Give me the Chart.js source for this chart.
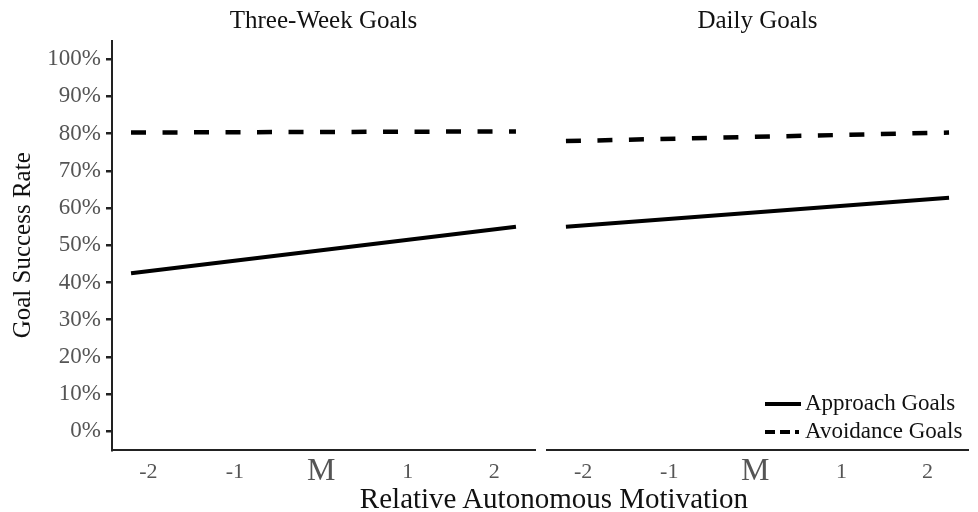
<!DOCTYPE html>
<html>
<head>
<meta charset="utf-8">
<script src="https://cdn.jsdelivr.net/npm/chart.js@4.4.1/dist/chart.umd.min.js"></script>
<style>
  body { margin: 0; background: #fff; }
  .figure { position: relative; width: 978px; height: 512px; }
  .figure canvas { position: absolute; top: 0; }
  #left-panel { left: 0; }
  #right-panel { left: 542px; }
  .x-title {
    position: absolute;
    left: 254px;
    width: 600px;
    top: 481px;
    text-align: center;
    font: 29px/34px 'Liberation Serif', 'Times New Roman', serif;
    color: #111;
  }
</style>
</head>
<body>
<div class="figure">
  <canvas id="left-panel" width="542" height="512"></canvas>
  <canvas id="right-panel" width="436" height="512"></canvas>
  <div class="x-title">Relative Autonomous Motivation</div>
</div>
<script>
const panelTitles = ['Three-Week Goals', 'Daily Goals'];
const seriesLabels = ['Approach Goals', 'Avoidance Goals'];

// where the fitted lines start and end on the motivation axis (SD units)
const motivationRange = [-2.2, 2.25];

// goal success rate (%) at the two ends of each line
const threeWeekApproach = [42.5, 55.0];
const threeWeekAvoidance = [80.3, 80.6];
const dailyApproach = [55.0, 62.8];
const dailyAvoidance = [78.0, 80.3];

const xTickValues = [-2, -1, 0, 1, 2];
const xTickLabels = ['-2', '-1', 'M', '1', '2'];
const yTickValues = [0, 10, 20, 30, 40, 50, 60, 70, 80, 90, 100];

const serif = "'Liberation Serif', 'Times New Roman', serif";
Chart.defaults.font.family = serif;

const toPoints = (values) => values.map((y, i) => ({ x: motivationRange[i], y }));

// legend sits inside the bottom right corner of the daily panel
const goalLegend = {
  id: 'goalLegend',
  afterDraw(chart) {
    const { ctx, chartArea } = chart;
    const left = chartArea.right - 203;
    const rows = [chartArea.bottom - 46, chartArea.bottom - 18];
    ctx.save();
    seriesLabels.forEach((label, i) => {
      ctx.beginPath();
      ctx.setLineDash(i === 0 ? [] : [10, 5]);
      ctx.lineWidth = 4;
      ctx.strokeStyle = '#000';
      ctx.moveTo(left, rows[i]);
      ctx.lineTo(left + (i === 0 ? 36 : 34), rows[i]);
      ctx.stroke();
      ctx.setLineDash([]);
      ctx.fillStyle = '#111';
      ctx.font = `23px ${serif}`;
      ctx.textBaseline = 'middle';
      ctx.fillText(label, left + 40, rows[i]);
    });
    ctx.restore();
  },
};

const renderPanel = (canvasId, title, approach, avoidance, isLeft) => {
  const canvas = document.getElementById(canvasId);

  new Chart(canvas, {
    type: 'line',
    data: {
      datasets: [
        {
          label: seriesLabels[0],
          data: toPoints(approach),
          borderColor: '#000',
          borderWidth: 4,
          pointRadius: 0,
        },
        {
          label: seriesLabels[1],
          data: toPoints(avoidance),
          borderColor: '#000',
          borderWidth: 4.5,
          borderDash: [15, 16.5],
          pointRadius: 0,
        },
      ],
    },
    options: {
      responsive: false,
      animation: false,
      events: [],
      layout: {
        padding: isLeft ? { left: 0, right: 7 } : { left: 5, right: 10 },
      },
      plugins: {
        legend: { display: false },
        tooltip: { enabled: false },
      },
      scales: {
        // empty top axis that only carries the facet title, centred on the panel
        facet: {
          type: 'linear',
          position: 'top',
          axis: 'x',
          min: -2.42,
          max: 2.47,
          grid: { display: false, drawTicks: false },
          border: { display: false },
          ticks: { display: false },
          title: {
            display: true,
            text: title,
            color: '#111',
            font: { size: 25 },
            padding: { top: 6, bottom: 4.6 },
          },
        },
        x: {
          type: 'linear',
          min: -2.42,
          max: 2.47,
          afterBuildTicks: (axis) => {
            axis.ticks = xTickValues.map((value) => ({ value }));
          },
          afterFit: (axis) => {
            axis.height = 62;
          },
          grid: { display: false, drawTicks: false },
          border: { display: true, color: '#222', width: 2 },
          ticks: {
            padding: 9,
            color: '#555',
            maxRotation: 0,
            autoSkip: false,
            font: (ctx) => ({
              family: serif,
              size: ctx.tick && ctx.tick.value === 0 ? 32 : 22,
              lineHeight: '26px',
            }),
            callback: (value) => xTickLabels[xTickValues.indexOf(value)],
          },
        },
        y: {
          display: isLeft,
          min: -5,
          max: 105,
          afterBuildTicks: (axis) => {
            axis.ticks = yTickValues.map((value) => ({ value }));
          },
          afterFit: (axis) => {
            if (isLeft) axis.width = 112;
          },
          grid: {
            display: true,
            drawOnChartArea: false,
            drawTicks: true,
            tickLength: 6,
            color: '#222',
            lineWidth: 2.5,
          },
          border: { display: true, color: '#222', width: 2 },
          ticks: {
            padding: 5,
            color: '#555',
            font: { size: 23 },
            callback: (value) => value + '%',
          },
          title: {
            display: true,
            text: 'Goal Success Rate',
            color: '#111',
            font: { size: 25 },
            padding: { top: 8, bottom: 0 },
          },
        },
      },
    },
    plugins: isLeft ? [] : [goalLegend],
  });
};

renderPanel('left-panel', panelTitles[0], threeWeekApproach, threeWeekAvoidance, true);
renderPanel('right-panel', panelTitles[1], dailyApproach, dailyAvoidance, false);
</script>
</body>
</html>
